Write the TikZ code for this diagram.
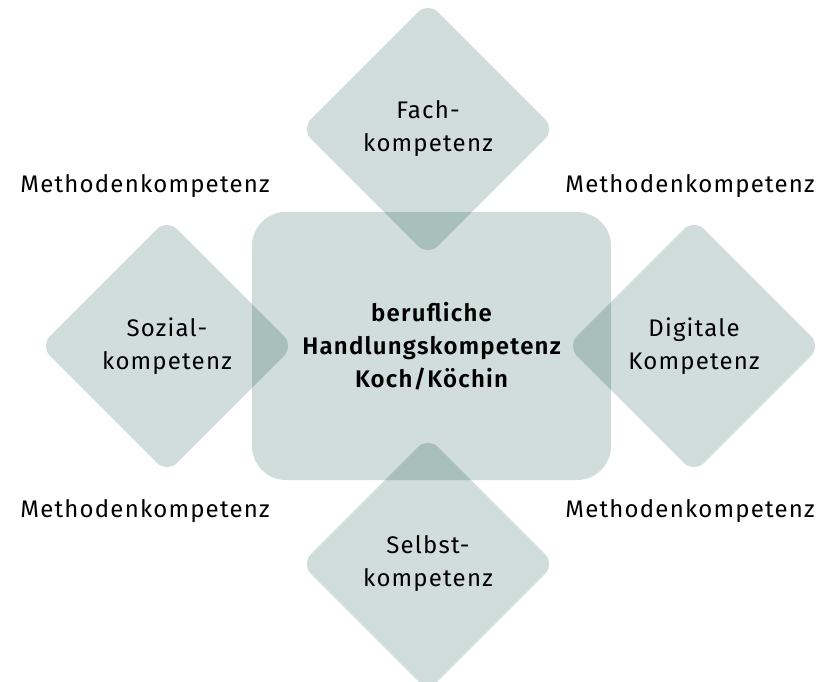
\documentclass[tikz,border=0pt]{standalone}
\usepackage{fontspec}
\setmainfont{Fira Sans}[LetterSpace=5,BoldFont={Fira Sans SemiBold}]
\usepackage{tikz}
\usetikzlibrary{shapes.geometric}

\definecolor{kfill}{HTML}{D0DDDA}

\begin{document}
\begin{tikzpicture}[x=1pt,y=-1pt,
  every node/.style={font=\fontsize{24}{33}\selectfont},
  feld/.style={diamond,fill=kfill,minimum width=254pt,minimum height=254pt,
    rounded corners=14pt,align=center,inner sep=0pt},
  kern/.style={rectangle,fill=kfill,minimum width=359pt,minimum height=268pt,
    rounded corners=34pt,align=center,font=\fontsize{24}{33}\selectfont\bfseries},
  methode/.style={anchor=base}]

  \useasboundingbox (0,0) rectangle (821,681);

  \begin{scope}[blend group=multiply]
    \node[kern] (K) at (431.5,346) {berufliche\\Handlungskompetenz\\Koch/Köchin};
    \node[feld] (F) at (428,129) {Fach-\\kompetenz};
    \node[feld] (S) at (167,346) {Sozial-\\kompetenz};
    \node[feld] (D) at (694,346) {Digitale\\Kompetenz};
    \node[feld] (B) at (428,564) {Selbst-\\kompetenz};
  \end{scope}

  % Methodenkompetenz in den Ecken
  \node[methode] (M1) at (145,192) {Methodenkompetenz};
  \node[methode] (M2) at (690,192) {Methodenkompetenz};
  \node[methode] (M3) at (145,517) {Methodenkompetenz};
  \node[methode] (M4) at (690,517) {Methodenkompetenz};
\end{tikzpicture}
\end{document}
